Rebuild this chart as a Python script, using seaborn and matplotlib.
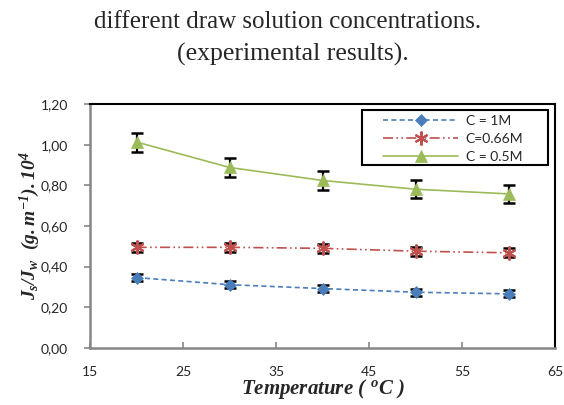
import matplotlib
matplotlib.use("Agg")
import matplotlib.pyplot as plt
from matplotlib.patches import Rectangle
import seaborn as sns
import pandas as pd

# Data
temperature = [20, 30, 40, 50, 60]
c_1m = [0.346, 0.311, 0.292, 0.274, 0.266]
c_066m = [0.495, 0.495, 0.490, 0.476, 0.468]
c_05m = [1.013, 0.888, 0.824, 0.781, 0.758]
err_1m = [0.017, 0.017, 0.017, 0.017, 0.017]
err_066m = [0.022, 0.022, 0.022, 0.022, 0.022]
err_05m = [0.047, 0.047, 0.045, 0.045, 0.043]
series_labels = ["C = 1M", "C=0.66M", "C = 0.5M"]
x_ticks = [15, 25, 35, 45, 55, 65]
y_ticks = [0.0, 0.2, 0.4, 0.6, 0.8, 1.0, 1.2]

sns.set_style("white")
plt.rcParams["mathtext.fontset"] = "custom"
plt.rcParams["mathtext.rm"] = "Liberation Serif:bold:italic"
plt.rcParams["mathtext.it"] = "Liberation Serif:bold:italic"
plt.rcParams["mathtext.bf"] = "Liberation Serif:bold:italic"
plt.rcParams["font.family"] = ["Lato", "DejaVu Sans"]

fig = plt.figure(figsize=(5.64, 4.05), dpi=100)
ax = fig.add_axes([0.160, 0.141, 0.824, 0.602])

styles = [
    dict(color="#4A7EBB", marker="D", linestyle=(0, (3, 2)), ms=6.5, mew=0.5),
    dict(color="#C0504D", marker=(6, 2, 0), linestyle=(0, (6, 2, 1, 2, 1, 2)), ms=10, mew=1.5),
    dict(color="#9BBB59", marker="^", linestyle="-", ms=8, mew=0.5),
]
values = [c_1m, c_066m, c_05m]
errors = [err_1m, err_066m, err_05m]

for vals, errs, lab, st in zip(values, errors, series_labels, styles):
    df = pd.DataFrame({"T": temperature, "v": vals})
    ax.errorbar(temperature, vals, yerr=errs, fmt="none", ecolor="black",
                elinewidth=1.6, capsize=4.5, capthick=1.8, zorder=2)
    sns.lineplot(data=df, x="T", y="v", ax=ax, color=st["color"],
                 linestyle=st["linestyle"], linewidth=1.2, marker=st["marker"],
                 markersize=st["ms"], markeredgecolor=st["color"],
                 markeredgewidth=st["mew"], label=lab, zorder=3)

ax.set_xlim(15, 65)
ax.set_ylim(0, 1.2)
ax.set_xticks(x_ticks)
ax.set_yticks(y_ticks)
ax.set_xticklabels([str(t) for t in x_ticks], fontsize=10)
ax.set_yticklabels([f"{t:.2f}".replace(".", ",") for t in y_ticks], fontsize=10)
ax.tick_params(axis="y", direction="out", length=4, color="#868686", width=1.2, pad=12)
ax.tick_params(axis="x", direction="in", length=4, color="#868686", width=1.2, pad=13)
ax.xaxis.set_ticks_position("bottom")
ax.yaxis.set_ticks_position("left")

for side in ["left", "bottom"]:
    ax.spines[side].set_color("#868686")
    ax.spines[side].set_linewidth(1.8)
for side in ["top", "right"]:
    ax.spines[side].set_color("black")
    ax.spines[side].set_linewidth(1.5)

ax.set_xlabel(r"$Temperature\ (\ ^{o}C\ )$", fontsize=15, labelpad=-1)
ax.set_ylabel(r"$J_s/J_w\ \ (g.m^{-1}).10^4$", fontsize=14, labelpad=-1)

# Legend entries without frame; the box is drawn separately with wide margins
leg = ax.legend(loc="upper left", bbox_to_anchor=(0.630, 0.956), fontsize=10,
                frameon=False, handlelength=5.4, borderpad=0, borderaxespad=0,
                labelspacing=0.45, handletextpad=0.55)
ax.add_patch(Rectangle((0.585, 0.75), 0.40, 0.225, transform=ax.transAxes,
                       fill=False, edgecolor="black", linewidth=1.5, zorder=5,
                       clip_on=False))

fig.text(0.509, 0.931, "different draw solution concentrations.",
         family="Liberation Serif", fontsize=18, ha="center", va="baseline")
fig.text(0.520, 0.850, "(experimental results).",
         family="Liberation Serif", fontsize=18.5, ha="center", va="baseline")

fig.savefig("out.png", dpi=100)
